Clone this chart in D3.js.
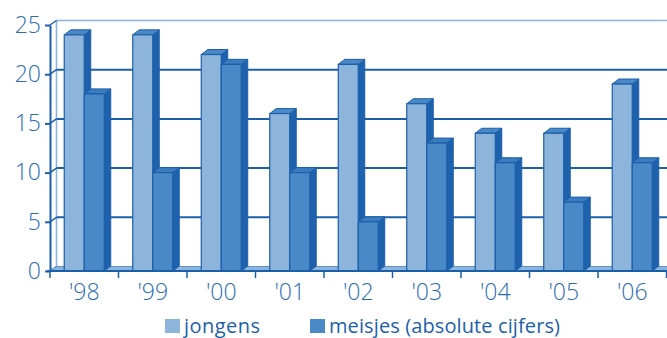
<!DOCTYPE html>
<html>
<head>
<meta charset="utf-8">
<script src="https://cdn.jsdelivr.net/npm/d3@7"></script>
<style>
  html, body { margin: 0; padding: 0; background: #ffffff; }
  svg { display: block; }
</style>
</head>
<body>
<svg id="chart" width="667" height="338"></svg>
<script>
// ---- data ----
const categories = ["'98", "'99", "'00", "'01", "'02", "'03", "'04", "'05", "'06"];
const seriesNames = ["jongens", "meisjes (absolute cijfers)"];
const jongens = [24, 24, 22, 16, 21, 17, 14, 14, 19];
const meisjes = [18, 10, 21, 10, 5, 13, 11, 7, 11];
const yTicks = [0, 5, 10, 15, 20, 25];

// ---- styles ----
const dark = "#1c5fa9";
const light = "#8db5db";
const textCol = "#2a6cb4";
const frontCols = ["#8db5db", "#4a89c7"];
const topCols = ["#4a89c7", "#3b7bbf"];
const sideCol = "#1e62ae";
const font = "'Open Sans', 'Noto Sans', sans-serif";
const wdx = 6.5, wdy = -4.5;   // wall depth
const bdx = 6.5, bdy = -5;     // bar depth

const svg = d3.select("#chart");
const plotLeft = 50, plotRight = 666.5, plotBottom = 271, plotTop = 25;

const y = d3.scaleLinear().domain([0, 25]).range([plotBottom, plotTop]);
const x = d3.scaleBand().domain(categories).range([plotLeft, plotRight]).padding(0);
const xs = d3.scaleBand().domain(seriesNames).range([0, 40]);
const groupOffset = (x.bandwidth() - 40) / 2;

const line = d3.line();

// back wall edges
svg.append("path")
  .attr("d", line([[plotLeft + wdx, y(0) + wdy], [plotLeft + wdx, y(25) + wdy], [667, y(25) + wdy]]))
  .attr("fill", "none").attr("stroke", light).attr("stroke-width", 1.6);

// gridlines on back wall
svg.append("g").selectAll("line").data(yTicks.filter(d => d > 0 && d < 25)).join("line")
  .attr("x1", plotLeft + wdx).attr("x2", 667)
  .attr("y1", d => y(d) + wdy).attr("y2", d => y(d) + wdy)
  .attr("stroke", dark).attr("stroke-width", 2);

// left wall diagonals
svg.append("g").selectAll("path").data(yTicks).join("path")
  .attr("d", d => line([[plotLeft, y(d)], [plotLeft + wdx, y(d) + wdy]]))
  .attr("fill", "none").attr("stroke", dark).attr("stroke-width", 1.5);

// floor
svg.append("path")
  .attr("d", line([[plotLeft, y(0)], [plotRight, y(0)], [plotRight + wdx, y(0) + wdy], [plotLeft + wdx, y(0) + wdy]]) + "Z")
  .attr("fill", light).attr("stroke", "#5b93cc").attr("stroke-width", 1);

// bars
const bars = [];
categories.forEach((c, i) => {
  [jongens[i], meisjes[i]].forEach((v, s) => {
    bars.push({ c, s, v, name: seriesNames[s] });
  });
});

const gBars = svg.append("g");
bars.forEach(b => {
  const x0 = x(b.c) + groupOffset + xs(b.name);
  const x1 = x0 + xs.bandwidth();
  const yt = y(b.v), yb = y(0);
  const g = gBars.append("g");
  g.append("path")
    .attr("d", line([[x1, yb], [x1, yt], [x1 + bdx, yt + bdy], [x1 + bdx, yb + bdy]]) + "Z")
    .attr("fill", sideCol).attr("stroke", dark).attr("stroke-width", 1).attr("stroke-linejoin", "round");
  g.append("path")
    .attr("d", line([[x0, yt], [x1, yt], [x1 + bdx, yt + bdy], [x0 + bdx, yt + bdy]]) + "Z")
    .attr("fill", topCols[b.s]).attr("stroke", dark).attr("stroke-width", 1).attr("stroke-linejoin", "round");
  g.append("rect")
    .attr("x", x0).attr("y", yt).attr("width", x1 - x0).attr("height", yb - yt)
    .attr("fill", frontCols[b.s]).attr("stroke", dark).attr("stroke-width", 1.2);
});

// y axis
const yAxis = svg.append("g").attr("transform", `translate(${plotLeft},0)`)
  .call(d3.axisLeft(y).tickValues(yTicks).tickSize(5).tickPadding(4).tickSizeOuter(0));
yAxis.select(".domain").attr("stroke", dark).attr("stroke-width", 2);
yAxis.selectAll(".tick line").attr("stroke", dark).attr("stroke-width", 2);
yAxis.selectAll(".tick text")
  .attr("fill", textCol).style("font-family", font).style("font-size", "23px").style("font-weight", 300);

// x axis line & ticks at band boundaries
svg.append("line").attr("x1", plotLeft - 3).attr("x2", 667).attr("y1", y(0)).attr("y2", y(0))
  .attr("stroke", dark).attr("stroke-width", 2);
const bounds = categories.map(c => x(c)).concat([plotRight]);
svg.append("g").selectAll("line").data(bounds).join("line")
  .attr("x1", d => d).attr("x2", d => d).attr("y1", y(0)).attr("y2", y(0) + 7)
  .attr("stroke", dark).attr("stroke-width", 1.5);

// x labels
const xAxis = svg.append("g").attr("transform", `translate(0,${y(0)})`)
  .call(d3.axisBottom(x).tickSize(0).tickPadding(13));
xAxis.select(".domain").remove();
xAxis.selectAll(".tick text")
  .attr("fill", textCol).style("font-family", font).style("font-size", "23px").style("font-weight", 300);

// legend
const legend = svg.append("g");
const legendPos = [165, 310];
seriesNames.forEach((n, i) => {
  legend.append("rect").attr("x", legendPos[i]).attr("y", 319).attr("width", 15).attr("height", 14)
    .attr("fill", frontCols[i]);
  legend.append("text").attr("x", legendPos[i] + 19).attr("y", 333)
    .attr("fill", dark).style("font-family", font).style("font-size", "20px").style("font-weight", 500)
    .attr("textLength", i === 0 ? 76 : 231).attr("lengthAdjust", "spacing")
    .text(n);
});
</script>
</body>
</html>
